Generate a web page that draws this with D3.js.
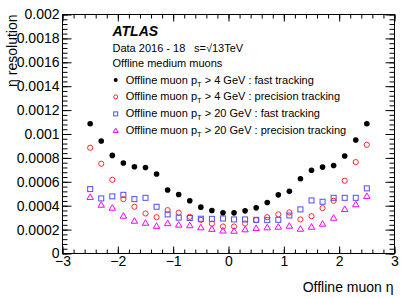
<!DOCTYPE html>
<html>
<head>
<meta charset="utf-8">
<script src="https://cdn.jsdelivr.net/npm/d3@7"></script>
<style>
    body { margin: 0; background: #fff; }
    text { font-family: "Liberation Sans", Arial, Helvetica, sans-serif; fill: #000; }
</style>
</head>
<body>
<div class="chart"></div>
<script>
// bin centres in eta
var etaBins = [-2.5, -2.3, -2.1, -1.9, -1.7, -1.5, -1.3, -1.1, -0.9, -0.7, -0.5, -0.3, -0.1,
               0.1, 0.3, 0.5, 0.7, 0.9, 1.1, 1.3, 1.5, 1.7, 1.9, 2.1, 2.3, 2.5];

// pT > 4 GeV, fast tracking
var fastPt4 = [0.001086, 0.000941, 0.000821, 0.000757, 0.000726, 0.00072, 0.000665, 0.000531, 0.000494, 0.000441, 0.000388, 0.00036, 0.00034,
               0.00034, 0.000357, 0.000382, 0.000427, 0.000491, 0.00052, 0.000625, 0.000697, 0.000723, 0.000737, 0.000816, 0.00095, 0.001086];
// pT > 4 GeV, precision tracking
var precPt4 = [0.000885, 0.000751, 0.000617, 0.000455, 0.000391, 0.000335, 0.000304, 0.000363, 0.000342, 0.000307, 0.000281, 0.00025, 0.000226,
               0.000226, 0.000251, 0.000279, 0.000304, 0.000327, 0.000344, 0.000285, 0.000312, 0.00038, 0.000441, 0.000609, 0.000765, 0.00091];
// pT > 20 GeV, fast tracking
var fastPt20 = [0.000539, 0.000461, 0.000478, 0.000491, 0.000455, 0.000466, 0.000391, 0.000327, 0.0003, 0.000297, 0.000291, 0.00029, 0.000293,
                0.000285, 0.000285, 0.000282, 0.000279, 0.000282, 0.000318, 0.000369, 0.000444, 0.000433, 0.000466, 0.000466, 0.000466, 0.000545];
// pT > 20 GeV, precision tracking
var precPt20 = [0.000472, 0.000407, 0.000382, 0.000315, 0.000273, 0.000256, 0.00023, 0.000253, 0.00024, 0.000235, 0.000218, 0.000205, 0.000191,
                0.000189, 0.000201, 0.000212, 0.000218, 0.000223, 0.000231, 0.000206, 0.000223, 0.000248, 0.000298, 0.000371, 0.000411, 0.00048];

var xTicks = [-3, -2, -1, 0, 1, 2, 3];
var xTickLabels = ["\u22123", "\u22122", "\u22121", "0", "1", "2", "3"];
var yTicks = [0, 0.0002, 0.0004, 0.0006, 0.0008, 0.001, 0.0012, 0.0014, 0.0016, 0.0018, 0.002];
var yTickLabels = ["0", "0.0002", "0.0004", "0.0006", "0.0008", "0.001", "0.0012", "0.0014", "0.0016", "0.0018", "0.002"];

var legendPt = ["4", "4", "20", "20"];
var legendMode = ["fast tracking", "precision tracking", "fast tracking", "precision tracking"];

(function () {
    var width = 415, height = 298;
    var left = 62.5, right = 394.5, top = 14.5, bottom = 253.5;
    var smallFont = '11px';

    var svg = d3.select('.chart').append('svg')
        .attr('width', width)
        .attr('height', height);

    var x = d3.scaleLinear().domain([-3, 3]).range([left, right]);
    var y = d3.scaleLinear().domain([0, 0.002]).range([bottom, top]);

    // minor tick values
    var xMinor = d3.range(-3, 3.0001, 0.2).map(function (v) { return Math.round(v * 10) / 10; });
    var yMinor = d3.range(0, 0.0020001, 0.00004);

    function drawAxis(axis, tx, ty, withLabels) {
        var g = svg.append('g')
            .attr('transform', 'translate(' + tx + ',' + ty + ')')
            .call(axis);
        g.select('.domain').remove();
        g.selectAll('line').attr('stroke', '#000').attr('stroke-width', 1);
        if (withLabels) {
            g.selectAll('text')
                .style('font-family', '"Liberation Sans", Arial, sans-serif')
                .style('font-size', '14px')
                .attr('fill', '#000');
        }
        return g;
    }

    // bottom axis
    drawAxis(d3.axisBottom(x).tickValues(xMinor).tickSizeInner(-4).tickSizeOuter(0).tickFormat(''), 0, bottom, false);
    drawAxis(d3.axisBottom(x).tickValues(xTicks).tickSizeInner(-7).tickSizeOuter(0).tickPadding(3)
        .tickFormat(function (d, i) { return xTickLabels[i]; }), 0, bottom, true);
    // top axis (mirror)
    drawAxis(d3.axisTop(x).tickValues(xMinor).tickSizeInner(-4).tickSizeOuter(0).tickFormat(''), 0, top, false);
    drawAxis(d3.axisTop(x).tickValues(xTicks).tickSizeInner(-7).tickSizeOuter(0).tickFormat(''), 0, top, false);

    // left axis
    drawAxis(d3.axisLeft(y).tickValues(yMinor).tickSizeInner(-5).tickSizeOuter(0).tickFormat(''), left, 0, false);
    drawAxis(d3.axisLeft(y).tickValues(yTicks).tickSizeInner(-9).tickSizeOuter(0).tickPadding(3)
        .tickFormat(function (d, i) { return yTickLabels[i]; }), left, 0, true);
    // right axis (mirror)
    drawAxis(d3.axisRight(y).tickValues(yMinor).tickSizeInner(-5).tickSizeOuter(0).tickFormat(''), right, 0, false);
    drawAxis(d3.axisRight(y).tickValues(yTicks).tickSizeInner(-9).tickSizeOuter(0).tickFormat(''), right, 0, false);

    // frame
    svg.append('rect')
        .attr('x', left).attr('y', top)
        .attr('width', right - left).attr('height', bottom - top)
        .attr('fill', 'none').attr('stroke', '#000').attr('stroke-width', 1);

    // axis titles
    svg.append('text')
        .attr('x', right - 1).attr('y', 292)
        .attr('text-anchor', 'end')
        .style('font-size', '14px')
        .text('Offline muon η');

    svg.append('text')
        .attr('transform', 'translate(16.5,' + top + ') rotate(-90)')
        .attr('text-anchor', 'end')
        .style('font-size', '14px')
        .text('η resolution');

    // markers
    var red = '#ff2a2a', blue = '#4d4dff', magenta = '#ff00ff';
    var triangle = d3.symbol().type(d3.symbolTriangle).size(18);

    function pts(values) {
        return values.map(function (v, i) { return { eta: etaBins[i], v: v }; });
    }

    svg.append('g').selectAll('circle').data(pts(fastPt4)).enter().append('circle')
        .attr('cx', function (d) { return x(d.eta); })
        .attr('cy', function (d) { return y(d.v); })
        .attr('r', 2.8)
        .attr('fill', '#000');

    svg.append('g').selectAll('circle').data(pts(precPt4)).enter().append('circle')
        .attr('cx', function (d) { return x(d.eta); })
        .attr('cy', function (d) { return y(d.v); })
        .attr('r', 2.6)
        .attr('fill', 'none').attr('stroke', red).attr('stroke-width', 1);

    svg.append('g').selectAll('rect').data(pts(fastPt20)).enter().append('rect')
        .attr('x', function (d) { return x(d.eta) - 2.5; })
        .attr('y', function (d) { return y(d.v) - 2.5; })
        .attr('width', 5).attr('height', 5)
        .attr('fill', 'none').attr('stroke', blue).attr('stroke-width', 1);

    svg.append('g').selectAll('path').data(pts(precPt20)).enter().append('path')
        .attr('d', triangle)
        .attr('transform', function (d) { return 'translate(' + x(d.eta) + ',' + (y(d.v) + 0.5) + ')'; })
        .attr('fill', 'none').attr('stroke', magenta).attr('stroke-width', 1);

    // labels
    svg.append('text')
        .attr('x', 112.5).attr('y', 36)
        .style('font-size', '14px').style('font-weight', 'bold').style('font-style', 'italic')
        .text('ATLAS');

    svg.append('text')
        .attr('x', 112.5).attr('y', 52)
        .style('font-size', smallFont)
        .text('Data 2016 - 18');
    svg.append('text')
        .attr('x', 194).attr('y', 52)
        .style('font-size', smallFont)
        .text('s=√13TeV');

    svg.append('text')
        .attr('x', 112.5).attr('y', 67)
        .style('font-size', smallFont)
        .text('Offline medium muons');

    // legend
    var legendY = [83.5, 100.3, 117.3, 134];
    legendPt.forEach(function (pt, i) {
        var cy = legendY[i] - 3.4, cx = 115.7;
        if (i === 0) {
            svg.append('circle').attr('cx', cx).attr('cy', cy).attr('r', 2).attr('fill', '#000');
        } else if (i === 1) {
            svg.append('circle').attr('cx', cx).attr('cy', cy).attr('r', 2)
                .attr('fill', 'none').attr('stroke', red);
        } else if (i === 2) {
            svg.append('rect').attr('x', cx - 2).attr('y', cy - 2).attr('width', 4).attr('height', 4)
                .attr('fill', 'none').attr('stroke', blue);
        } else {
            svg.append('path').attr('d', d3.symbol().type(d3.symbolTriangle).size(11))
                .attr('transform', 'translate(' + cx + ',' + (cy + 0.4) + ')')
                .attr('fill', 'none').attr('stroke', magenta);
        }
        var t = svg.append('text')
            .attr('x', 125.7).attr('y', legendY[i])
            .style('font-size', smallFont);
        t.append('tspan').text('Offline muon p');
        t.append('tspan').attr('dy', 3).style('font-size', '7.5px').text('T');
        t.append('tspan').attr('dy', -3).text(' > ' + pt + ' GeV : ' + legendMode[i]);
    });
}());
</script>
</body>
</html>
